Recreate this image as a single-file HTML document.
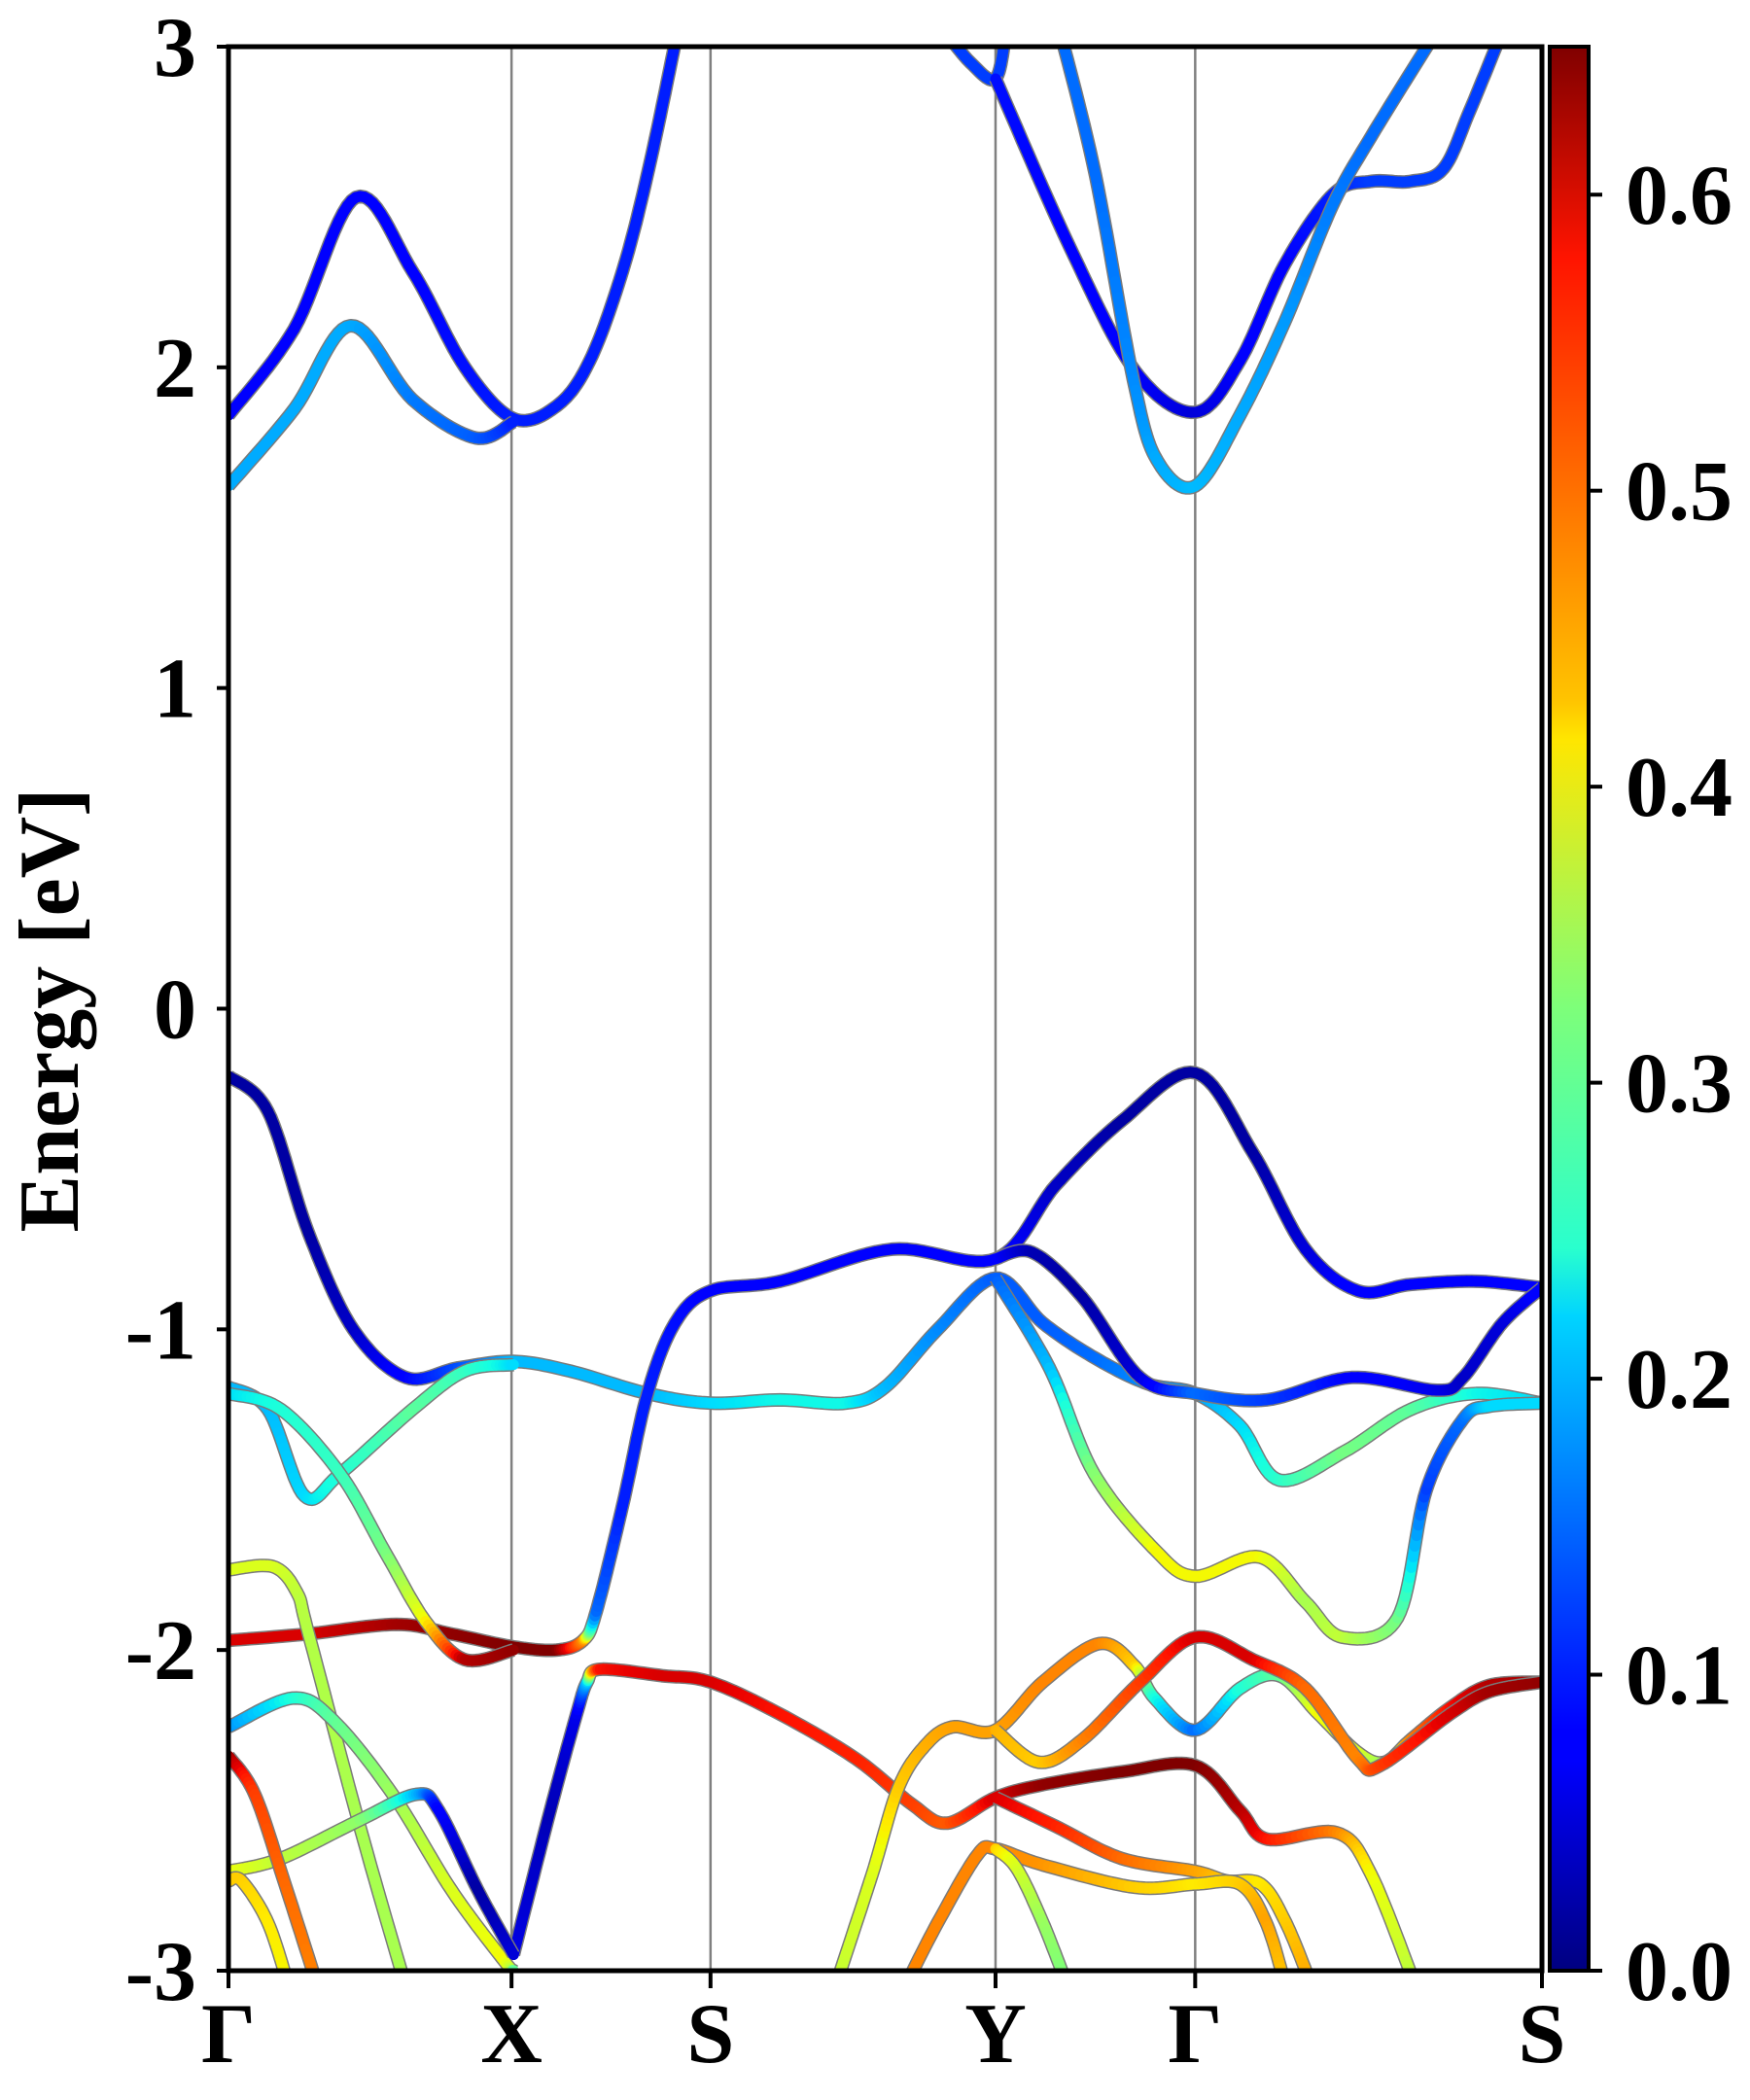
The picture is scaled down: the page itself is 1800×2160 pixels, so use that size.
<!DOCTYPE html>
<html><head><meta charset="utf-8"><style>
html,body{margin:0;padding:0;background:#fff;}
svg{display:block;}
text{font-family:"Liberation Serif","Times New Roman",serif;font-weight:bold;fill:#000;}
</style></head><body>
<svg id="chart" width="1800" height="2160" viewBox="0 0 1800 2160" xmlns="http://www.w3.org/2000/svg">
<defs>
<clipPath id="plotclip"><rect x="235" y="48" width="1351" height="1979"/></clipPath>
<linearGradient id="jetgrad" x1="0" y1="1" x2="0" y2="0">
<stop offset="0" stop-color="#000080"/><stop offset="0.11" stop-color="#0000ff"/><stop offset="0.125" stop-color="#0000ff"/>
<stop offset="0.34" stop-color="#00d4ff"/><stop offset="0.375" stop-color="#29ffce"/><stop offset="0.5" stop-color="#7dff7a"/>
<stop offset="0.64" stop-color="#ffe600"/><stop offset="0.66" stop-color="#ffc400"/><stop offset="0.89" stop-color="#ff1400"/><stop offset="1" stop-color="#800000"/>
</linearGradient>
</defs>
<rect x="0" y="0" width="1800" height="2160" fill="#fff"/>
<g id="vlines"></g>
<g id="bands" clip-path="url(#plotclip)"></g>
<rect x="235" y="48" width="1351" height="1979" fill="none" stroke="#000" stroke-width="5"/>
<g id="yticks"></g>
<g id="xticks"></g>
<text x="80" y="1039" font-size="88" text-anchor="middle" transform="rotate(-90 80 1039)">Energy [eV]</text>
<rect x="1594" y="48" width="40" height="1979" fill="url(#jetgrad)" stroke="#000" stroke-width="4"/>
<g id="cbticks"></g>
</svg>
<script>
const kTicks = [0, 0.2155, 0.367, 0.584, 0.736, 1];
const kLabels = ["Γ", "X", "S", "Y", "Γ", "S"];
const eTicks = [3, 2, 1, 0, -1, -2, -3];
const eLabels = ["3", "2", "1", "0", "-1", "-2", "-3"];
const cbTicks = [0, 0.1, 0.2, 0.3, 0.4, 0.5, 0.6];
const cbLabels = ["0.0", "0.1", "0.2", "0.3", "0.4", "0.5", "0.6"];
const wMax = 0.65;
// bands: [k, energy(eV), weight]
const cb1 = [[0,1.85,.08],[.05,2.12,.08],[.097,2.53,.08],[.14,2.3,.08],[.18,2.0,.09],[.217,1.84,.1],[.25,1.88,.1],[.275,2.02,.1],[.3,2.3,.1],[.32,2.62,.1],[.342,3.05,.1]];
const cb2 = [[0,1.63,.19],[.05,1.87,.19],[.093,2.13,.19],[.14,1.9,.16],[.188,1.78,.14],[.217,1.83,.1]];
const cb3 = [[.545,3.05,.12],[.565,2.95,.12],[.584,2.9,.12],[.592,3.05,.12]];
const cb4 = [[.584,2.9,.09],[.64,2.38,.08],[.69,1.99,.07],[.736,1.86,.05],[.77,2.02,.07],[.804,2.32,.08],[.841,2.54,.1],[.87,2.58,.12],[.9,2.58,.12],[.925,2.62,.12],[.945,2.8,.12],[.97,3.05,.12]];
const cb5 = [[.633,3.05,.15],[.66,2.6,.15],[.689,1.96,.17],[.707,1.71,.19],[.736,1.63,.2],[.77,1.85,.19],[.804,2.14,.18],[.84,2.5,.16],[.87,2.72,.15],[.92,3.05,.15]];
const v1 = [[0,-.21,.02],[.03,-.32,.02],[.061,-.7,.02],[.095,-1.0,.04],[.135,-1.15,.08],[.175,-1.12,.13],[.217,-1.1,.2],[.26,-1.13,.2],[.319,-1.2,.2],[.367,-1.23,.22],[.42,-1.22,.24],[.47,-1.23,.24],[.5,-1.18,.2],[.54,-1.0,.17],[.584,-.84,.14],[.62,-.98,.14],[.66,-1.09,.15],[.7,-1.17,.17],[.736,-1.2,.18],[.77,-1.3,.22],[.8,-1.47,.26],[.85,-1.38,.32],[.9,-1.25,.3],[.95,-1.2,.24],[1,-1.23,.22]];
const v2 = [[.217,-2.95,.06],[.245,-2.5,.03],[.265,-2.2,.06],[.273,-2.1,.2],[.283,-2.06,.58],[.33,-2.08,.6],[.367,-2.1,.6],[.42,-2.2,.58],[.478,-2.34,.57],[.52,-2.48,.55],[.547,-2.54,.53],[.584,-2.46,.6],[.62,-2.42,.64],[.68,-2.38,.65],[.736,-2.36,.65],[.77,-2.5,.62],[.791,-2.59,.58],[.844,-2.57,.5],[.87,-2.7,.42],[.904,-3.05,.37]];
const v3 = [[0,-1.97,.6],[.06,-1.95,.6],[.128,-1.92,.63],[.17,-1.95,.64],[.217,-1.99,.65],[.25,-2.0,.65],[.27,-1.97,.5],[.28,-1.88,.15],[.3,-1.55,.1],[.319,-1.2,.1],[.34,-.98,.09],[.367,-.88,.08],[.42,-.85,.08],[.505,-.75,.08],[.584,-.78,.08],[.63,-.55,.04],[.68,-.35,.02],[.736,-.2,.02],[.78,-.45,.02],[.82,-.75,.05],[.86,-.88,.08],[.9,-.86,.08],[.95,-.85,.08],[1,-.87,.08]];
const v4 = [[.584,-.78,.08],[.612,-.76,.03],[.65,-.9,.02],[.694,-1.15,.05],[.736,-1.2,.15],[.79,-1.22,.12],[.855,-1.15,.08],[.92,-1.19,.06],[.94,-1.15,.04],[.97,-.98,.05],[1,-.87,.08]];
const v5 = [[0,-1.18,.2],[.03,-1.25,.2],[.058,-1.52,.22],[.085,-1.45,.25],[.14,-1.25,.3],[.18,-1.13,.27],[.217,-1.11,.22]];
const v6 = [[0,-1.2,.22],[.04,-1.25,.25],[.085,-1.45,.27],[.12,-1.7,.32],[.15,-1.91,.42],[.18,-2.03,.62],[.217,-2.0,.64]];
const v7 = [[0,-1.75,.4],[.034,-1.74,.4],[.052,-1.82,.38],[.061,-1.95,.37],[.1,-2.55,.36],[.135,-3.05,.36]];
const v8 = [[0,-2.24,.17],[.049,-2.15,.25],[.08,-2.22,.3],[.125,-2.45,.35],[.17,-2.75,.4],[.21,-2.97,.42],[.217,-3.0,.3]];
const v9 = [[0,-2.69,.42],[.04,-2.65,.38],[.1,-2.53,.34],[.143,-2.45,.2],[.16,-2.5,.08],[.19,-2.75,.02],[.217,-2.95,.05]];
const v10 = [[0,-2.33,.64],[.02,-2.45,.55],[.043,-2.73,.52],[.068,-3.05,.5]];
const v11 = [[0,-2.72,.45],[.01,-2.72,.45],[.03,-2.85,.43],[.046,-3.05,.42]];
const v12 = [[.462,-3.05,.38],[.49,-2.7,.4],[.51,-2.43,.45],[.53,-2.3,.47],[.551,-2.24,.48],[.584,-2.25,.48],[.62,-2.1,.5],[.663,-1.98,.5],[.69,-2.05,.45],[.705,-2.15,.25],[.736,-2.25,.15],[.77,-2.12,.25],[.8,-2.08,.3],[.83,-2.2,.42],[.86,-2.32,.4],[.88,-2.35,.35],[.9,-2.28,.5],[.93,-2.18,.58],[.96,-2.11,.62],[1,-2.1,.63]];
const v13 = [[.584,-2.25,.47],[.617,-2.35,.45],[.65,-2.28,.5],[.694,-2.1,.55],[.736,-1.96,.6],[.78,-2.03,.6],[.82,-2.12,.52],[.86,-2.34,.5],[.877,-2.36,.55],[.93,-2.2,.6],[.96,-2.13,.63],[1,-2.1,.64]];
const v14 = [[.584,-2.46,.6],[.63,-2.55,.57],[.68,-2.65,.52],[.736,-2.69,.48],[.76,-2.72,.45],[.786,-2.73,.43],[.805,-2.85,.45],[.825,-3.05,.48]];
const v15 = [[.515,-3.05,.5],[.54,-2.85,.5],[.57,-2.64,.5],[.584,-2.62,.5],[.62,-2.67,.49],[.69,-2.74,.45],[.736,-2.73,.43],[.77,-2.73,.45],[.79,-2.85,.48],[.805,-3.05,.45]];
const v16 = [[.584,-2.62,.45],[.6,-2.68,.4],[.62,-2.85,.35],[.639,-3.05,.32]];
const v17 = [[.584,-.84,.14],[.625,-1.12,.2],[.659,-1.45,.33],[.706,-1.69,.42],[.736,-1.77,.42],[.785,-1.71,.42],[.82,-1.85,.36],[.848,-1.96,.38],[.89,-1.9,.32],[.912,-1.5,.12],[.94,-1.28,.15],[.96,-1.24,.22],[1,-1.23,.22]];
const bandList = [cb1,cb2,cb3,cb4,cb5,v1,v2,v3,v4,v5,v6,v7,v8,v9,v10,v11,v12,v13,v14,v15,v16,v17];

const X0=235, X1=1586, Y0=48, Y1=2027;
function xS(k){ return X0 + k*(X1-X0); }
function yS(e){ return Y0 + (3-e)/6*(Y1-Y0); }
function cS(v){ return Y1 - v/wMax*(Y1-Y0); }
function interp(pts,t){ for(let i=1;i<pts.length;i++){ if(t<=pts[i][0]){ const a=pts[i-1],b=pts[i]; return a[1]+(b[1]-a[1])*(t-a[0])/(b[0]-a[0]); } } return pts[pts.length-1][1]; }
function jet(v){
  const t=Math.max(0,Math.min(1,v/wMax));
  const r=interp([[0,0],[0.35,0],[0.66,1],[0.89,1],[1,0.5]],t);
  const g=interp([[0,0],[0.125,0],[0.375,1],[0.64,1],[0.91,0],[1,0]],t);
  const b=interp([[0,0.5],[0.11,1],[0.34,1],[0.65,0],[1,0]],t);
  return 'rgb('+Math.round(r*255)+','+Math.round(g*255)+','+Math.round(b*255)+')';
}
const NS='http://www.w3.org/2000/svg';
function mk(tag,attrs,parent){ const el=document.createElementNS(NS,tag); for(const a in attrs) el.setAttribute(a,attrs[a]); parent.appendChild(el); return el; }

const vl=document.getElementById('vlines');
kTicks.slice(1,5).forEach(function(k){
  const l=mk('line',{x1:xS(k),x2:xS(k),y1:Y0,y2:Y1,stroke:'#808080','stroke-width':2.5},vl);
  
  
});

const bg=document.getElementById('bands');
bandList.forEach(function(band){
  const P=band.map(function(p){ return [xS(p[0]), yS(p[1]), p[2]]; });
  const samples=[];
  for(let i=0;i<P.length-1;i++){
    const p0=P[Math.max(0,i-1)], p1=P[i], p2=P[i+1], p3=P[Math.min(P.length-1,i+2)];
    const N=14;
    for(let s=0;s<N;s++){
      const t=s/N, t2=t*t, t3=t2*t;
      const x=0.5*((2*p1[0])+(-p0[0]+p2[0])*t+(2*p0[0]-5*p1[0]+4*p2[0]-p3[0])*t2+(-p0[0]+3*p1[0]-3*p2[0]+p3[0])*t3);
      const y=0.5*((2*p1[1])+(-p0[1]+p2[1])*t+(2*p0[1]-5*p1[1]+4*p2[1]-p3[1])*t2+(-p0[1]+3*p1[1]-3*p2[1]+p3[1])*t3);
      samples.push([x,y,p1[2]+(p2[2]-p1[2])*t]);
    }
  }
  const last=P[P.length-1]; samples.push(last);
  const g=mk('g',{},bg);
  
  
  const d='M'+samples.map(function(s){return s[0].toFixed(1)+','+s[1].toFixed(1);}).join('L');
  const o=mk('path',{d:d,fill:'none',stroke:'#7a7a7a','stroke-width':14,'stroke-linejoin':'round'},g);
  
  
  for(let i=0;i<samples.length-1;i++){
    const a=samples[i], b=samples[i+1];
    const seg=mk('line',{x1:a[0].toFixed(1),y1:a[1].toFixed(1),x2:b[0].toFixed(1),y2:b[1].toFixed(1),stroke:jet((a[2]+b[2])/2),'stroke-width':11,'stroke-linecap':'round'},g);
    
    
  }
});

const yt=document.getElementById('yticks');
eTicks.forEach(function(e,i){
  const t=mk('line',{x1:X0-12,x2:X0,y1:yS(e),y2:yS(e),stroke:'#000','stroke-width':4},yt);
  
  
  const tx=mk('text',{x:202,y:yS(e)+30,'font-size':88,'text-anchor':'end'},yt);
  tx.textContent=eLabels[i];
  
  
});
const xt=document.getElementById('xticks');
kTicks.forEach(function(k,i){
  const t=mk('line',{x1:xS(k),x2:xS(k),y1:Y1,y2:Y1+18,stroke:'#000','stroke-width':4},xt);
  
  
  const tx=mk('text',{x:xS(k),y:2121,'font-size':88,'text-anchor':'middle'},xt);
  tx.textContent=kLabels[i];
  
  
});
const ct=document.getElementById('cbticks');
cbTicks.forEach(function(v,i){
  const t=mk('line',{x1:1634,x2:1648,y1:cS(v),y2:cS(v),stroke:'#000','stroke-width':4},ct);
  
  
  const tx=mk('text',{x:1672,y:cS(v)+30,'font-size':88,'text-anchor':'start'},ct);
  tx.textContent=cbLabels[i];
  
  
});
</script>
</body></html>
